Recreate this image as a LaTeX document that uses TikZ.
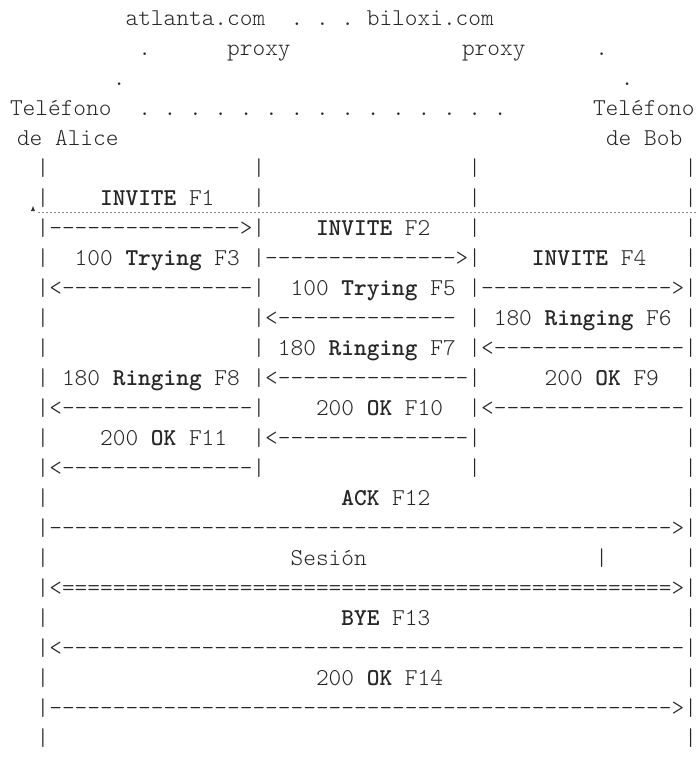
\documentclass[tikz,border=0pt]{standalone}
\ExplSyntaxOn
\cs_new:Npn \rep #1#2 { \prg_replicate:nn {#1} {#2} }
\ExplSyntaxOff
\newcommand\cw{12.7}
\newcommand\asciifont{\ttfamily\fontsize{24.19pt}{30pt}\fontseries{l}\selectfont}
\newcommand\B[1]{{\fontseries{b}\selectfont #1}}
\newcommand\sk[1]{\hspace*{\fpeval{#1*\cw}pt}}
\newcommand\D[1]{\rep{#1}{-{}}}
\newcommand\E[1]{\rep{#1}{={}}}
\newcommand\ascline[4]{\node[tx] (#1) at ({#2},{25+30*(#3)}) {#4};}
\newcommand\colx[1]{36.65+\cw*(#1)}
\begin{document}
\begin{tikzpicture}[x=1pt,y=-1pt,
  tx/.style={anchor=base west, inner sep=0pt, outer sep=0pt, font=\asciifont, text=black!85}]
\useasboundingbox (0,0) rectangle (696,766);
% header
\ascline{h0}{\colx{7}}{0}{atlanta.com~~.~.~.~biloxi.com}
\ascline{h1a}{\colx{8}}{1}{.}
\ascline{h1b}{\colx{15}}{1}{proxy}
\ascline{h1c}{462}{1}{proxy}
\ascline{h1d}{\colx{44}}{1}{.}
\ascline{h2a}{\colx{6}}{2}{.}
\ascline{h2b}{\colx{46}}{2}{.}
\ascline{h3a}{10}{3}{Teléfono}
\ascline{h3b}{\colx{8}}{3}{.~.~.~.~.~.~.~.~.~.~.~.~.~.~.}
\ascline{h3c}{593}{3}{Teléfono}
\ascline{h4a}{17}{4}{de~Alice}
\ascline{h4b}{606}{4}{de~Bob}
% body
\ascline{r5}{\colx{0}}{5}{|\sk{16}|\sk{16}|\sk{16}|}
\ascline{r6}{\colx{0}}{6}{|\sk{4}\B{INVITE}~F1\sk{3}|\sk{16}|\sk{16}|}
\ascline{r7}{\colx{0}}{7}{|\D{15}>|\sk{4}\B{INVITE}~F2\sk{3}|\sk{16}|}
\ascline{r8}{\colx{0}}{8}{|\sk{2}100~\B{Trying}~F3\sk{1}|\D{15}>|\sk{4}\B{INVITE}~F4\sk{3}|}
\ascline{r9}{\colx{0}}{9}{|<\D{15}|\sk{2}100~\B{Trying}~F5\sk{1}|\D{15}>|}
\ascline{r10}{\colx{0}}{10}{|\sk{16}|<\D{14}\sk{1}|\sk{1}180~\B{Ringing}~F6\sk{1}|}
\ascline{r11}{\colx{0}}{11}{|\sk{16}|\sk{1}180~\B{Ringing}~F7\sk{1}|<\D{15}|}
\ascline{r12}{\colx{0}}{12}{|\sk{1}180~\B{Ringing}~F8\sk{1}|<\D{15}|\sk{5}200~\B{OK}~F9\sk{2}|}
\ascline{r13}{\colx{0}}{13}{|<\D{15}|\sk{4}200~\B{OK}~F10\sk{2}|<\D{15}|}
\ascline{r14}{\colx{0}}{14}{|\sk{4}200~\B{OK}~F11\sk{2}|<\D{15}|\sk{16}|}
\ascline{r15}{\colx{0}}{15}{|<\D{15}|\sk{16}|\sk{16}|}
\ascline{r16}{\colx{0}}{16}{|\sk{23}\B{ACK}~F12\sk{20}|}
\ascline{r17}{\colx{0}}{17}{|\D{49}>|}
\ascline{r18}{\colx{0}}{18}{|\sk{19}Sesión\sk{18}|\sk{6}|}
\ascline{r19}{\colx{0}}{19}{|<\E{48}>|}
\ascline{r20}{\colx{0}}{20}{|\sk{23}\B{BYE}~F13\sk{20}|}
\ascline{r21}{\colx{0}}{21}{|<\D{49}|}
\ascline{r22}{\colx{0}}{22}{|\sk{21}200~\B{OK}~F14\sk{19}|}
\ascline{r23}{\colx{0}}{23}{|\D{49}>|}
\ascline{r24}{\colx{0}}{24}{|\sk{50}|}
% scan mark
\draw[black!45, line width=0.6pt, dash pattern=on 1.5pt off 2.5pt] (38,212) -- (696,212);
\fill[black!80] (31,211) -- (35,211) -- (33,206) -- cycle;
\end{tikzpicture}
\end{document}
